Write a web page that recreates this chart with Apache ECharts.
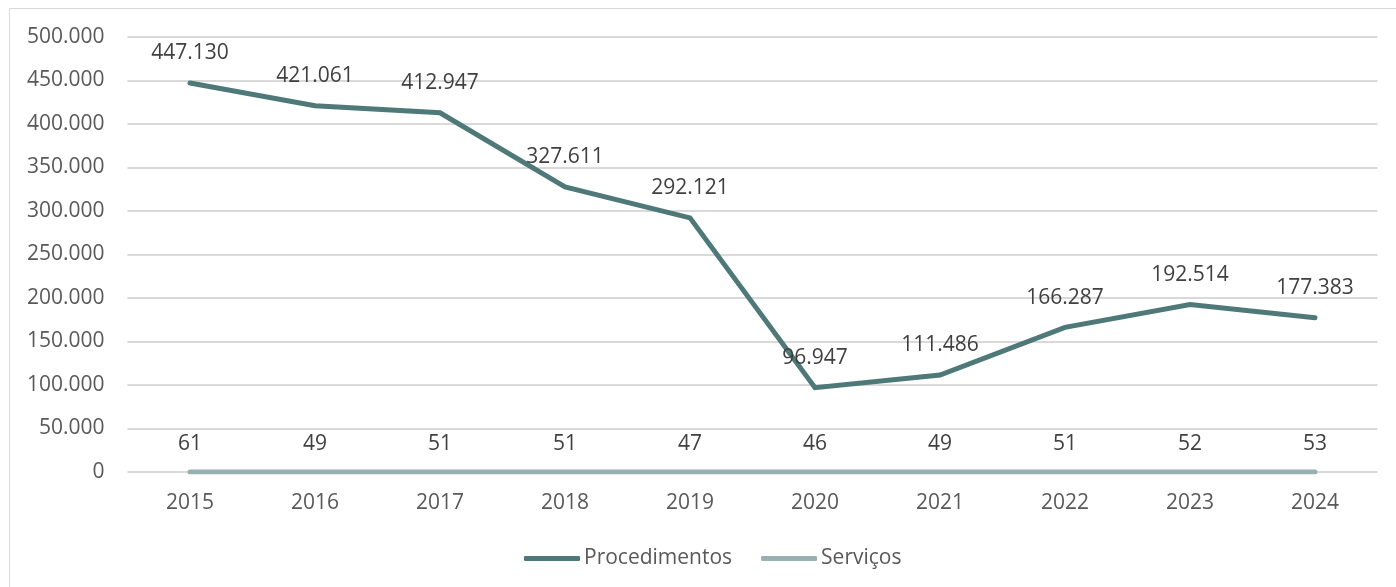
<!DOCTYPE html>
<html>
<head>
<meta charset="utf-8">
<script src="https://cdn.jsdelivr.net/npm/echarts@6/dist/echarts.min.js"></script>
<style>
  html, body { margin: 0; padding: 0; background: #fff; }
  #chart { width: 1396px; height: 587px; }
</style>
</head>
<body>
<div id="chart"></div>
<script>
// ── data ──
const years = ['2015', '2016', '2017', '2018', '2019', '2020', '2021', '2022', '2023', '2024'];
const procedimentos = [447130, 421061, 412947, 327611, 292121, 96947, 111486, 166287, 192514, 177383];
const servicos = [61, 49, 51, 51, 47, 46, 49, 51, 52, 53];

const FONT = '"Open Sans", "Liberation Sans", sans-serif';
const fmt = v => String(Math.round(v)).replace(/\B(?=(\d{3})+(?!\d))/g, '.');

const chart = echarts.init(document.getElementById('chart'));
chart.setOption({
  backgroundColor: '#fff',
  animation: false,
  textStyle: { fontFamily: FONT },
  graphic: [{
    type: 'rect', shape: { x: 9.5, y: 8.5, width: 1400, height: 600 },
    style: { fill: 'none', stroke: '#d9d9d9', lineWidth: 1 }, silent: true,
  }],
  grid: { left: 127.5, right: 18.5, top: 37, bottom: 115, containLabel: false },
  legend: {
    top: 543, left: 519,
    icon: 'roundRect', itemWidth: 56, itemHeight: 5, itemGap: 29,
    textStyle: { color: '#595959', fontSize: 21, fontFamily: FONT, padding: [0, 0, 0, -1] },
    data: ['Procedimentos', 'Serviços'],
  },
  xAxis: {
    type: 'category', data: years, boundaryGap: true,
    axisLine: { show: false }, axisTick: { show: false },
    axisLabel: { color: '#595959', fontSize: 21, margin: 21, fontFamily: FONT },
  },
  yAxis: {
    type: 'value', min: 0, max: 500000, interval: 50000,
    axisLine: { show: false }, axisTick: { show: false },
    axisLabel: { color: '#595959', fontSize: 21, margin: 23, fontFamily: FONT, formatter: fmt },
    splitLine: { lineStyle: { color: '#d9d9d9', width: 2 } },
  },
  series: [
    {
      name: 'Procedimentos', type: 'line', data: procedimentos,
      symbol: 'circle', symbolSize: 0.1, showSymbol: true, z: 3,
      lineStyle: { color: '#4f7979', width: 5, cap: 'round', join: 'miter' },
      itemStyle: { color: '#4f7979' },
      label: { show: true, position: 'top', distance: 19, color: '#404040', fontSize: 21, fontFamily: FONT, formatter: p => fmt(p.value) },
    },
    {
      name: 'Serviços', type: 'line', data: servicos,
      symbol: 'circle', symbolSize: 0.1, showSymbol: true, z: 2,
      lineStyle: { color: '#98b0b0', width: 5, cap: 'round' },
      itemStyle: { color: '#98b0b0' },
      label: { show: true, position: 'top', distance: 17, color: '#404040', fontSize: 21, fontFamily: FONT, formatter: p => fmt(p.value) },
    },
  ],
});
</script>
</body>
</html>
